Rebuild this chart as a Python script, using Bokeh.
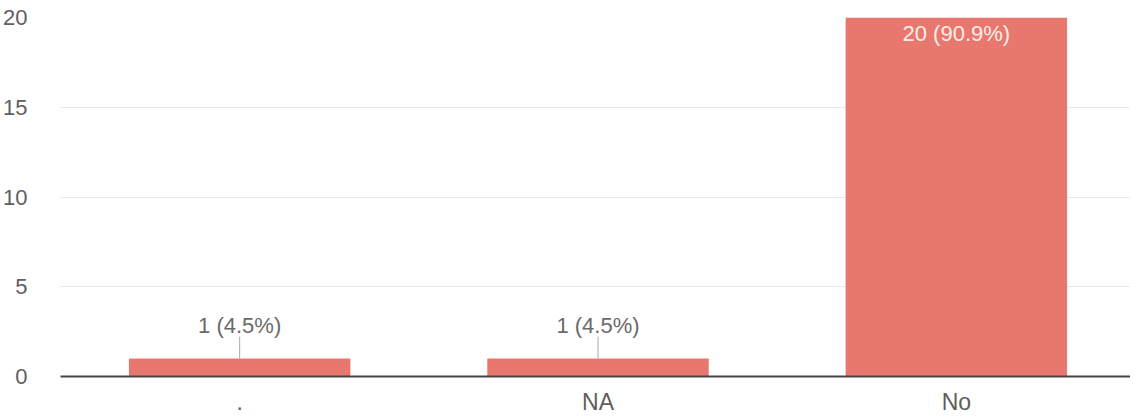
from bokeh.plotting import figure
from bokeh.models import ColumnDataSource, Range1d, FixedTicker
from bokeh.core.properties import value
from bokeh.embed import file_html
from bokeh.resources import INLINE

categories = [".", "NA", "No"]
counts = [1, 1, 20]
labels = ["1 (4.5%)", "1 (4.5%)", "20 (90.9%)"]
y_ticks = [0, 5, 10, 15, 20]

FONT = "Liberation Sans"
BAR = "#e8786d"

pos = list(range(len(categories)))

p = figure(x_range=Range1d(-0.5, 2.486), y_range=Range1d(0, 20),
           width=1130, height=417, output_backend="svg", toolbar_location=None,
           min_border_left=54, min_border_right=0, min_border_top=17, min_border_bottom=30)
p.outline_line_color = None
p.background_fill_color = "white"
p.border_fill_color = "white"

src = ColumnDataSource(dict(x=pos, n=counts, lab=labels))
p.vbar(x="x", top="n", width=0.618, bottom=0, source=src, fill_color=BAR, line_color=None)

small = [i for i, c in enumerate(counts) if c < 5]
big = [i for i, c in enumerate(counts) if c >= 5]
s_small = ColumnDataSource(dict(x=[pos[i] for i in small],
                                n=[counts[i] for i in small],
                                top=[counts[i] + 1.22 for i in small],
                                lab=[labels[i] for i in small]))
p.segment(x0="x", y0="n", x1="x", y1="top", source=s_small, line_color="#a8a8a8", line_width=1)
p.text(x="x", y="n", text="lab", source=s_small, y_offset=-33,
       text_align="center", text_baseline="alphabetic", text_color="#6a6a6a",
       text_font=value(FONT), text_font_size="22px")
s_big = ColumnDataSource(dict(x=[pos[i] for i in big],
                              n=[counts[i] for i in big],
                              lab=[labels[i] for i in big]))
p.text(x="x", y="n", text="lab", source=s_big, y_offset=16,
       text_align="center", text_baseline="alphabetic", text_color="#fbeeea",
       text_font=value(FONT), text_font_size="22px")

p.yaxis.ticker = FixedTicker(ticks=y_ticks)
p.yaxis.axis_line_color = None
p.yaxis.major_tick_line_color = None
p.yaxis.minor_tick_line_color = None
p.yaxis.major_label_standoff = 27
p.yaxis.major_label_text_font = FONT
p.yaxis.major_label_text_font_size = "22px"
p.yaxis.major_label_text_color = "#5e5e5e"

p.xaxis.ticker = FixedTicker(ticks=pos)
p.xaxis.major_label_overrides = {i: c for i, c in zip(pos, categories)}
p.xaxis.axis_line_color = "#444444"
p.xaxis.axis_line_width = 2
p.xaxis.major_tick_line_color = None
p.xaxis.minor_tick_line_color = None
p.xaxis.major_label_standoff = 6
p.xaxis.major_label_text_font = FONT
p.xaxis.major_label_text_font_size = "23px"
p.xaxis.major_label_text_color = "#5e5e5e"

p.xgrid.grid_line_color = None
p.ygrid.grid_line_color = "#e8e8e8"
p.ygrid.grid_line_width = 1

open("out.html", "w").write(file_html(p, INLINE))
